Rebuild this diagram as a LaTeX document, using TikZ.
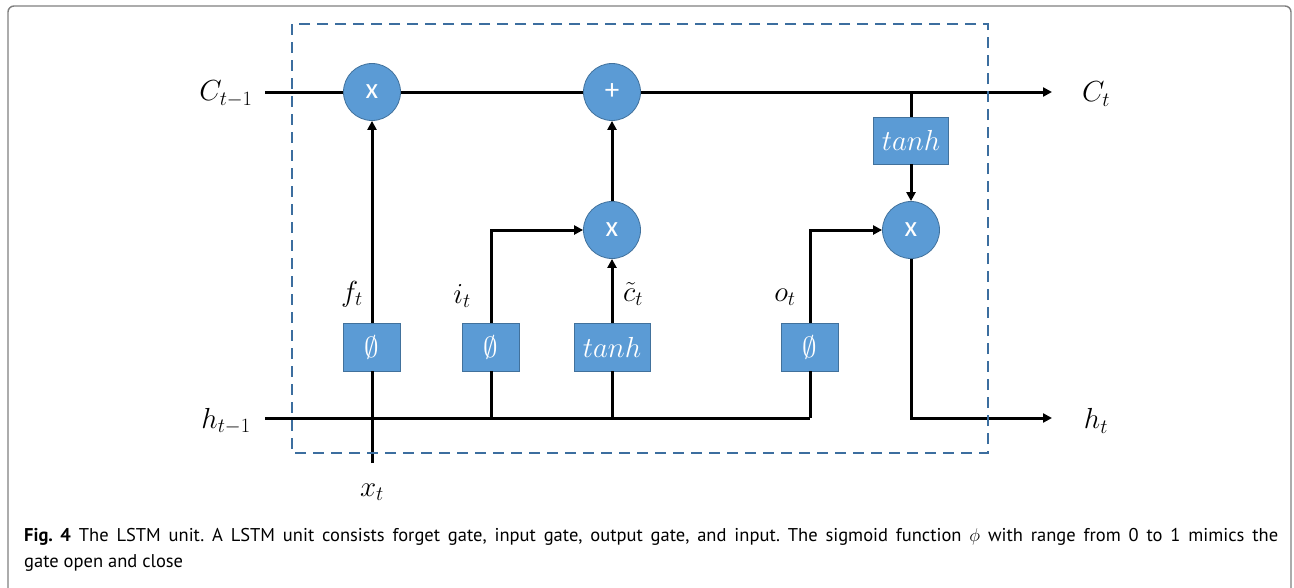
\RequirePackage{fix-cm}
\documentclass[tikz,border=0pt]{standalone}
\usepackage{fontspec}
\setmainfont{PT Sans}
\newfontfamily\calib{Carlito}
\usetikzlibrary{arrows.meta}
\definecolor{ofblue}{HTML}{5B9BD5}
\definecolor{ofedge}{HTML}{41719C}
\definecolor{dashblue}{HTML}{3C6E9F}
\definecolor{framegray}{HTML}{7F7F7F}
\begin{document}
\frenchspacing
\begin{tikzpicture}[x=1pt,y=-1pt,
  wire/.style={line width=3pt,black},
  arr/.style={wire,-{Triangle[length=9pt,width=9pt]}},
  circ/.style={circle,fill=ofblue,draw=ofedge,line width=0.8pt,minimum size=57pt,inner sep=0pt,text=white,font=\calib\fontsize{29}{31}\selectfont},
  gbox/.style={rectangle,fill=ofblue,draw=ofedge,line width=0.8pt,minimum width=57pt,minimum height=48pt,inner sep=0pt,text=white,font=\fontsize{29}{31}\selectfont},
  lbl/.style={font=\fontsize{29}{32}\selectfont,inner sep=0pt},
  dbox/.style={draw=dashblue,line width=2.8pt,dash pattern=on 11pt off 7pt}
]
\useasboundingbox (0,0) rectangle (1294,587);
% outer frame
\draw[framegray,line width=1.4pt,rounded corners=6pt] (8,588) -- (8,6) -- (1291,6) -- (1291,588);

% nodes
\node[circ] (m1) at (372,92) {x};
\node[circ] (p)  at (612,92) {+};
\node[circ] (m2) at (612,230) {x};
\node[circ] (m3) at (911,230) {x};
\node[gbox] (f) at (372,347) {$\emptyset$};
\node[gbox] (i) at (491,347) {$\emptyset$};
\node[gbox,minimum width=76pt] (c) at (612,347) {$tanh$};
\node[gbox] (o) at (810,347) {$\emptyset$};
\node[gbox,minimum width=75pt,minimum height=47pt] (t2) at (911,140.5) {$tanh$};

% labels
\node[lbl] (Cin)  at (226,94) {$C_{t-1}$};
\node[lbl] (Cout) at (1096,94) {$C_t$};
\node[lbl] (hin)  at (226,421) {$h_{t-1}$};
\node[lbl] (hout) at (1096,421) {$h_t$};
\node[lbl] (ft) at (352,294) {$f_t$};
\node[lbl] (it) at (462,296) {$i_t$};
\node[lbl] (ct) at (633,294) {$\tilde{c}_t$};
\node[lbl] (ot) at (785,297) {$o_t$};
\node[lbl] (xt) at (372,492) {$x_t$};

% coordinates
\coordinate (cs) at (265,92);
\coordinate (ce) at (1052,92);
\coordinate (br) at (911,92);
\coordinate (hs) at (265,418);
\coordinate (he) at (1052,418);
\coordinate (oj) at (810,418);
\coordinate (xb) at (372,463);

% connectors
\draw[wire] (cs) -- (m1.west);
\draw[wire] (m1.east) -- (p.west);
\draw[arr] (p.east) -- (ce);
\draw[wire] (br) -- (t2.north);
\draw[arr] (t2.south) -- (m3.north);
\draw[arr] (m2.north) -- (p.south);
\draw[arr] (m3.south) |- (he);
\draw[wire] (hs) -- (oj);
\draw[wire] (o.south) -- (oj);
\draw[arr] (o.north) |- (m3.west);
\draw[arr] (i.north) |- (m2.west);
\draw[wire] (i.south) -- (i.south |- hs);
\draw[arr] (c.north) -- (m2.south);
\draw[wire] (c.south) -- (c.south |- hs);
\draw[wire] (xb) -- (f.south);
\draw[arr] (f.north) -- (m1.south);

% dashed unit box
\draw[dbox] (292,24) rectangle (988,453);

% caption
\node[anchor=west,inner sep=0pt,font=\fontsize{18.5}{22}\selectfont] (cap1) at (24,537)
  {\makebox[1254pt][s]{\textbf{Fig. 4} The LSTM unit. A LSTM unit consists forget gate, input gate, output gate, and input. The sigmoid function $\phi$ with range from 0 to 1 mimics the}};
\node[anchor=west,inner sep=0pt,font=\fontsize{18.5}{22}\selectfont] (cap2) at (24,563)
  {gate open and close};
\end{tikzpicture}
\end{document}
